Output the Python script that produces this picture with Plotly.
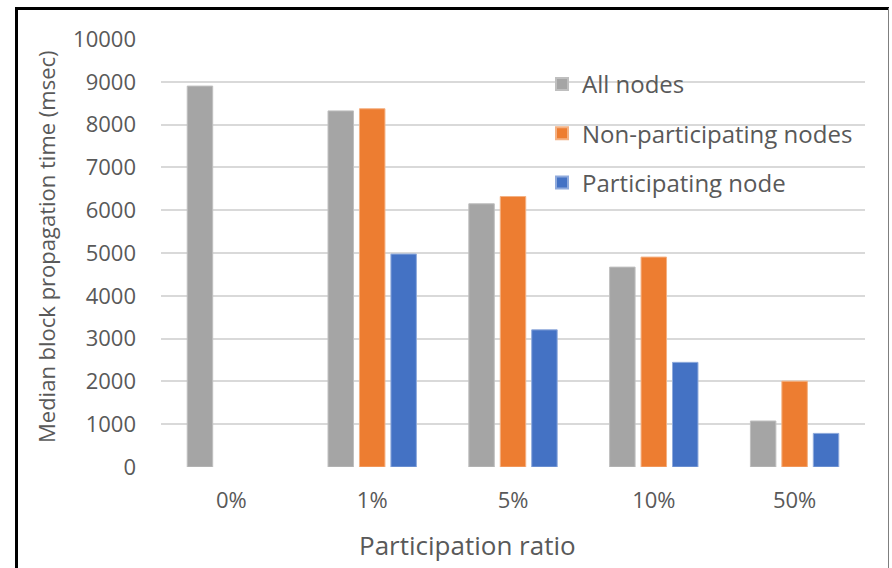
import plotly.graph_objects as go

# Participation ratio categories
categories = ["0%", "1%", "5%", "10%", "50%"]

# Median block propagation time (msec) per node group
all_nodes = [8900, 8320, 6150, 4670, 1075]
non_participating = [None, 8370, 6320, 4905, 2005]
participating = [None, 4975, 3205, 2445, 785]

series_names = ["All nodes", "Non-participating nodes", "Participating node"]
series_colors = ["#a5a5a5", "#ed7d31", "#4472c4"]
outline_colors = ["#bfbfbf", "#f4b183", "#8faadc"]

FONT = "Open Sans"
TEXT = "#595959"

W, H = 892, 568
ML, MR, MT, MB = 161, 27, 39, 101
PW, PH = W - ML - MR, H - MT - MB


def px_x(x):
    return (x - ML) / PW


def px_y(y):
    return (H - MB - y) / PH


fig = go.Figure()
for i, (name, vals) in enumerate(zip(series_names, [all_nodes, non_participating, participating])):
    fig.add_trace(go.Bar(
        x=categories, y=vals, name=name,
        marker=dict(color=series_colors[i], line=dict(color=outline_colors[i], width=1)),
        legendgroup=name,
    ))

fig.update_layout(
    width=W, height=H,
    margin=dict(l=ML, r=MR, t=MT, b=MB),
    paper_bgcolor="white", plot_bgcolor="white",
    barmode="group", bargap=0.33, bargroupgap=0.19,
    font=dict(family=FONT, size=22, color=TEXT),
    showlegend=True,
    legend=dict(
        x=px_x(542), y=px_y(62), xanchor="left", yanchor="top",
        bgcolor="rgba(0,0,0,0)", font=dict(family=FONT, size=24, color=TEXT),
        tracegroupgap=15, itemsizing="constant",
    ),
    xaxis=dict(
        showgrid=False, showline=False, ticks="", ticklabelstandoff=18,
        tickfont=dict(family=FONT, size=22, color=TEXT),
    ),
    yaxis=dict(
        range=[0, 10000], dtick=1000, tickformat="d", showgrid=True,
        gridcolor="#d9d9d9", gridwidth=2,
        zeroline=False, showline=False, ticks="", ticklabelstandoff=24,
        tickfont=dict(family=FONT, size=22, color=TEXT),
    ),
    annotations=[
        dict(text="Participation ratio", xref="paper", yref="paper",
             x=px_x(467), y=px_y(545), xanchor="center", yanchor="middle",
             showarrow=False, font=dict(family=FONT, size=26, color=TEXT)),
        dict(text="Median block propagation time (msec)", xref="paper", yref="paper",
             x=px_x(46), y=px_y(247), xanchor="center", yanchor="middle", textangle=-90,
             showarrow=False, font=dict(family=FONT, size=22, color=TEXT)),
    ],
    shapes=[
        dict(type="line", xref="paper", yref="paper", x0=px_x(16.5), x1=px_x(16.5),
             y0=px_y(7), y1=px_y(570), line=dict(color="black", width=3)),
        dict(type="line", xref="paper", yref="paper", x0=px_x(15), x1=px_x(889),
             y0=px_y(8.5), y1=px_y(8.5), line=dict(color="black", width=3)),
        dict(type="line", xref="paper", yref="paper", x0=px_x(888.5), x1=px_x(888.5),
             y0=px_y(8), y1=px_y(570), line=dict(color="#7f7f7f", width=1)),
    ],
)

fig.write_html("out.html")
